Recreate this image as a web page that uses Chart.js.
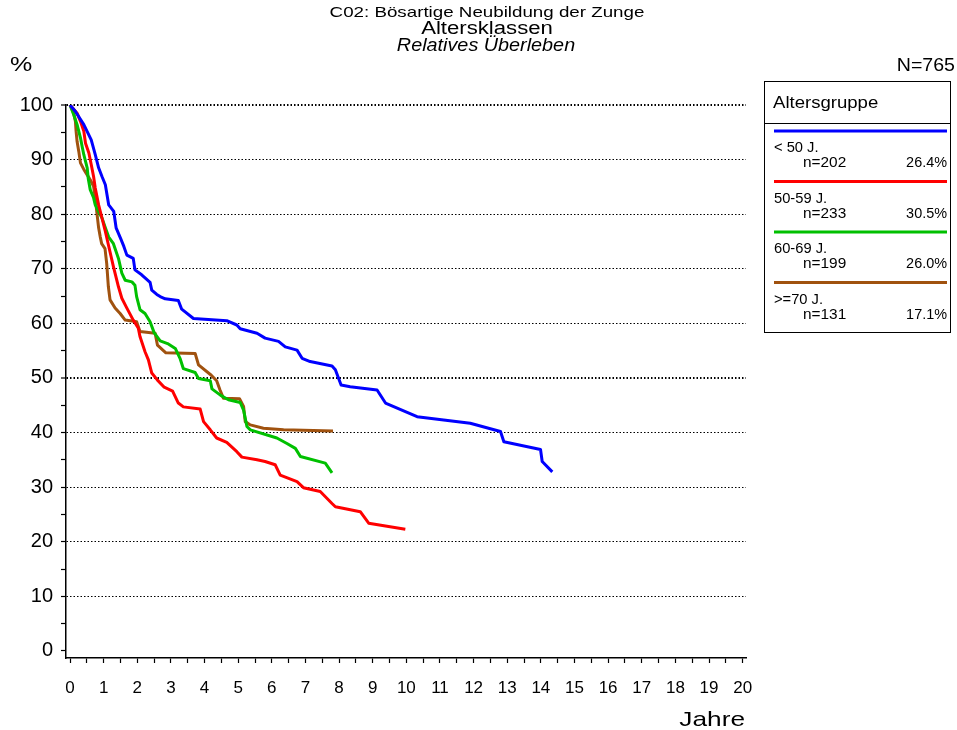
<!DOCTYPE html>
<html>
<head>
<meta charset="utf-8">
<script src="https://cdn.jsdelivr.net/npm/chart.js@4"></script>
<style>
  html, body { margin: 0; padding: 0; background: #fff; }
  #chart { display: block; }
</style>
</head>
<body>
<canvas id="chart" width="957" height="730"></canvas>
<script>
// ---- data ----
const groupLabels = ["< 50 J.", "50-59 J.", "60-69 J.", ">=70 J."];
const groupN = [202, 233, 199, 131];
const groupPct = ["26.4%", "30.5%", "26.0%", "17.1%"];
const groupColors = ["#0000ff", "#ff0000", "#00c000", "#a0520f"];

const blueT = [0, 0.16, 0.41, 0.63, 0.75, 0.85, 0.95, 1.05, 1.15, 1.30, 1.37, 1.50, 1.60, 1.69, 1.88, 1.93, 2.13, 2.38, 2.43, 2.58, 2.68, 2.83, 3.22, 3.32, 3.67, 4.66, 4.96, 5.06, 5.56, 5.80, 6.20, 6.40, 6.75, 6.90, 7.14, 7.79, 7.89, 8.06, 8.33, 9.13, 9.38, 10.32, 11.9, 12.8, 12.9, 13.99, 14.04, 14.34];
const blueS = [100, 98.8, 96.4, 93.6, 90.9, 88.5, 86.9, 85.4, 81.7, 80.5, 77.5, 75.6, 74.1, 72.5, 71.9, 69.8, 68.9, 67.5, 66.1, 65.3, 64.9, 64.5, 64.2, 62.6, 60.9, 60.5, 59.7, 59.0, 58.2, 57.3, 56.7, 55.7, 55.1, 53.6, 53.0, 52.2, 51.5, 48.7, 48.4, 47.8, 45.4, 42.9, 41.7, 40.2, 38.3, 36.9, 34.7, 32.8];

const redT = [0, 0.21, 0.31, 0.41, 0.46, 0.56, 0.63, 0.70, 0.75, 0.85, 0.95, 1.04, 1.14, 1.29, 1.44, 1.54, 1.69, 1.88, 2.03, 2.08, 2.23, 2.33, 2.43, 2.60, 2.80, 3.05, 3.22, 3.37, 3.87, 3.97, 4.17, 4.36, 4.66, 4.96, 5.11, 5.56, 5.80, 6.10, 6.25, 6.75, 6.94, 7.44, 7.79, 7.89, 8.63, 8.88, 9.97];
const redS = [100, 98.5, 97.0, 95.2, 93.0, 91.2, 89.1, 86.9, 84.8, 81.7, 79.3, 77.1, 74.4, 70.4, 66.7, 64.6, 62.8, 60.6, 59.1, 57.6, 54.8, 53.3, 50.9, 49.6, 48.3, 47.6, 45.4, 44.7, 44.3, 42.0, 40.5, 39.0, 38.2, 36.5, 35.5, 35.0, 34.7, 34.1, 32.2, 31.0, 29.9, 29.2, 27.0, 26.4, 25.5, 23.4, 22.3];

const greenT = [0, 0.11, 0.21, 0.31, 0.36, 0.41, 0.51, 0.54, 0.60, 0.70, 0.75, 0.85, 0.95, 1.05, 1.15, 1.29, 1.44, 1.54, 1.64, 1.84, 1.93, 1.98, 2.08, 2.23, 2.38, 2.50, 2.68, 2.90, 3.13, 3.27, 3.37, 3.72, 3.82, 4.17, 4.22, 4.48, 4.71, 5.06, 5.16, 5.26, 5.36, 6.15, 6.45, 6.70, 6.85, 7.59, 7.79];
const greenS = [100, 98.2, 96.4, 94.0, 92.4, 90.9, 88.5, 86.6, 84.5, 83.0, 81.7, 80.5, 79.3, 77.5, 75.8, 74.6, 71.9, 69.2, 67.9, 67.6, 67.0, 64.9, 62.5, 61.8, 60.3, 58.3, 56.8, 56.3, 55.4, 53.6, 51.7, 51.0, 49.9, 49.5, 48.0, 46.8, 46.0, 45.5, 44.1, 41.1, 40.5, 39.0, 38.0, 37.1, 35.6, 34.4, 32.6];

const brownT = [0, 0.11, 0.16, 0.18, 0.21, 0.26, 0.31, 0.41, 0.51, 0.60, 0.70, 0.75, 0.80, 0.85, 0.90, 0.94, 1.04, 1.09, 1.14, 1.19, 1.34, 1.49, 1.64, 1.98, 2.08, 2.53, 2.60, 2.85, 3.72, 3.82, 4.20, 4.36, 4.46, 4.56, 5.04, 5.16, 5.21, 5.36, 5.75, 6.35, 7.82];
const brownS = [100, 98.5, 97.0, 95.2, 93.3, 91.5, 89.4, 88.2, 87.2, 86.3, 85.1, 83.0, 80.2, 77.5, 75.8, 74.6, 73.7, 71.0, 66.7, 64.3, 62.8, 61.8, 60.6, 60.3, 58.5, 58.2, 56.0, 54.6, 54.5, 52.4, 50.5, 49.5, 47.8, 46.3, 46.2, 44.8, 42.0, 41.4, 40.8, 40.5, 40.3];

const xTickLabels = ["0", "1", "2", "3", "4", "5", "6", "7", "8", "9", "10", "11", "12", "13", "14", "15", "16", "17", "18", "19", "20"];
const yTickLabels = ["0", "10", "20", "30", "40", "50", "60", "70", "80", "90", "100"];

const titleLines = ["C02: Bösartige Neubildung der Zunge", "Altersklassen", "Relatives Überleben"];
const totalN = "N=765";

const FONT = "'Liberation Sans', Arial, sans-serif";

function toPoints(ts, ss) {
    return ts.map((t, i) => ({ x: t, y: ss[i] }));
}

const seriesT = [blueT, redT, greenT, brownT];
const seriesS = [blueS, redS, greenS, brownS];

// text stretched horizontally, the reference font runs a bit wide
function wideText(ctx, text, x, y, font, sx, align) {
    ctx.save();
    ctx.font = font;
    ctx.textAlign = align;
    ctx.translate(x, y);
    ctx.scale(sx, 1);
    ctx.fillText(text, 0, 0);
    ctx.restore();
}

// ---- header, axis captions and legend box ----
const decorPlugin = {
    id: "decor",
    afterDraw(chart) {
        const ctx = chart.ctx;
        ctx.save();
        ctx.fillStyle = "#000";
        ctx.textBaseline = "alphabetic";

        wideText(ctx, titleLines[0], 487, 17, "15px " + FONT, 1.25, "center");
        wideText(ctx, titleLines[1], 487, 34, "18px " + FONT, 1.23, "center");
        wideText(ctx, titleLines[2], 486, 51, "italic 18px " + FONT, 1.1, "center");

        wideText(ctx, "%", 10, 71, "20px " + FONT, 1.25, "left");
        wideText(ctx, totalN, 955, 71, "19px " + FONT, 1.03, "right");
        wideText(ctx, "Jahre", 745, 726, "21px " + FONT, 1.25, "right");

        // legend box
        ctx.strokeStyle = "#000";
        ctx.lineWidth = 1;
        ctx.strokeRect(764.5, 81.5, 186, 251);
        ctx.beginPath();
        ctx.moveTo(764, 123.5);
        ctx.lineTo(951, 123.5);
        ctx.stroke();

        wideText(ctx, "Altersgruppe", 773, 108, "16px " + FONT, 1.16, "left");

        groupLabels.forEach((lab, i) => {
            const ly = 131 + i * 50.5;
            ctx.strokeStyle = groupColors[i];
            ctx.lineWidth = 3;
            ctx.beginPath();
            ctx.moveTo(774, ly);
            ctx.lineTo(947, ly);
            ctx.stroke();
            ctx.fillStyle = "#000";
            wideText(ctx, lab, 774, ly + 21, "14px " + FONT, 1.05, "left");
            wideText(ctx, "n=" + groupN[i], 803, ly + 36, "14px " + FONT, 1.1, "left");
            wideText(ctx, groupPct[i], 947, ly + 36, "14px " + FONT, 1.03, "right");
        });
        ctx.restore();
    },
};

const ctx = document.getElementById("chart").getContext("2d");

new Chart(ctx, {
    type: "line",
    data: {
        datasets: seriesT.map((ts, i) => ({
            label: groupLabels[i],
            data: toPoints(ts, seriesS[i]),
            borderColor: groupColors[i],
            borderWidth: 3,
            pointRadius: 0,
            tension: 0,
            fill: false,
            borderJoinStyle: "round",
            borderCapStyle: "butt",
        })),
    },
    options: {
        responsive: false,
        animation: false,
        layout: { padding: { left: 0, right: 211, top: 105, bottom: 0 } },
        plugins: {
            legend: { display: false },
            title: { display: false },
            tooltip: { enabled: false },
        },
        scales: {
            x: {
                type: "linear",
                min: -0.12,
                max: 20.1,
                afterFit: (scale) => { scale.height = 72; },
                afterBuildTicks: (scale) => {
                    const ticks = [];
                    xTickLabels.forEach((lab, i) => {
                        ticks.push({ value: i });
                        if (i < xTickLabels.length - 1) ticks.push({ value: i + 0.5 });
                    });
                    scale.ticks = ticks;
                },
                border: { display: true, color: "#000", width: 1.5 },
                grid: {
                    drawOnChartArea: false,
                    drawTicks: true,
                    tickLength: 5,
                    tickColor: "#000",
                    tickWidth: 1.2,
                },
                ticks: {
                    autoSkip: false,
                    maxRotation: 0,
                    padding: 15,
                    color: "#000",
                    font: { family: FONT, size: 17 },
                    callback: (v) => (Number.isInteger(v) ? xTickLabels[v] : ""),
                },
            },
            y: {
                min: -1.3,
                max: 100,
                afterFit: (scale) => { scale.width = 66; },
                afterBuildTicks: (scale) => {
                    const ticks = [];
                    yTickLabels.forEach((lab, i) => {
                        ticks.push({ value: i * 10 });
                        if (i < yTickLabels.length - 1) ticks.push({ value: i * 10 + 5 });
                    });
                    scale.ticks = ticks;
                },
                // border.dash is what dashes the grid lines in v4
                border: { display: true, color: "#000", width: 1.5, dash: [1.5, 2] },
                grid: {
                    drawOnChartArea: true,
                    drawTicks: true,
                    tickLength: 5,
                    tickColor: "#000",
                    tickWidth: 1.2,
                    tickBorderDash: [],
                    color: (c) => {
                        const v = c.tick && c.tick.value;
                        return v > 0 && v % 10 === 0 ? "#000" : "rgba(0,0,0,0)";
                    },
                    lineWidth: (c) => {
                        const v = c.tick && c.tick.value;
                        return v === 50 || v === 100 ? 2 : 1;
                    },
                },
                ticks: {
                    autoSkip: false,
                    padding: 8,
                    color: "#000",
                    font: { family: FONT, size: 20 },
                    callback: (v) => (v % 10 === 0 ? yTickLabels[v / 10] : ""),
                },
            },
        },
    },
    plugins: [decorPlugin],
});
</script>
</body>
</html>
